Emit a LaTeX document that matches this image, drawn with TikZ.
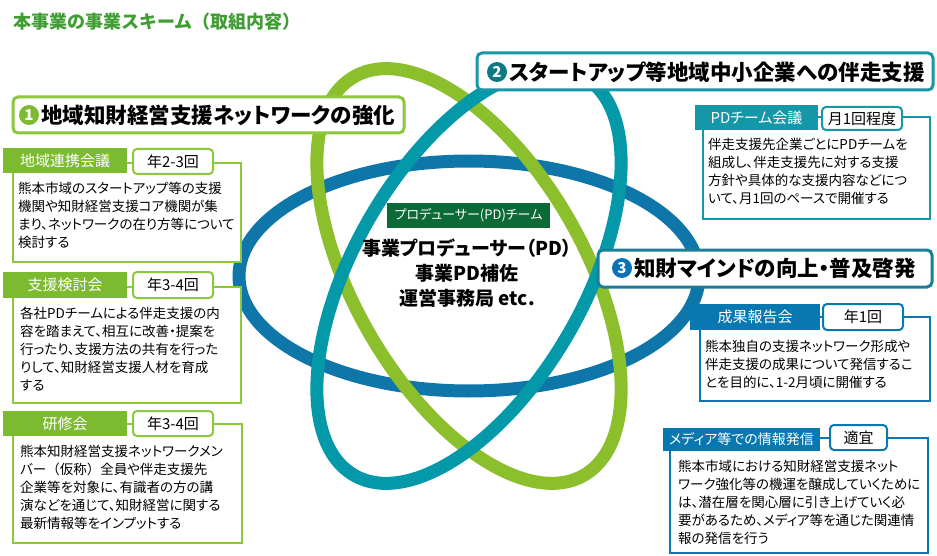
\documentclass[tikz,border=0pt]{standalone}
\usepackage{fontspec}
\setmainfont{Noto Sans CJK JP}[RawFeature={+palt}]
\newfontfamily\nopalt{Noto Sans CJK JP}
\definecolor{cblue}{HTML}{0E76A8}
\definecolor{cteal}{HTML}{0399A9}
\definecolor{cgreen}{HTML}{8BBF2B}
\definecolor{lgb}{HTML}{8DC63F}
\definecolor{lgh}{HTML}{7CBA2F}
\definecolor{tealb}{HTML}{1497A8}
\definecolor{blueb}{HTML}{0A78B0}
\definecolor{hb2}{HTML}{1B96A6}
\definecolor{hb3}{HTML}{1A7E97}
\definecolor{num1}{HTML}{7DBB32}
\definecolor{num2}{HTML}{0D7985}
\definecolor{num3}{HTML}{0B73B4}
\definecolor{dgreen}{HTML}{0B6A35}
\definecolor{ctitle}{HTML}{3F9D33}
\begin{document}
\begin{tikzpicture}[x=1pt,y=-1pt,
  ell/.style={line width=13pt},
  hbox/.style={fill=white, rounded corners=5pt, line width=3pt},
  numc/.style={circle, inner sep=0pt, minimum size=20pt, text=white, font=\fontsize{15}{15}\selectfont\bfseries},
  htext/.style={anchor=west, inner sep=0pt, font=\fontsize{21.5}{24}\selectfont\bfseries},
  bodybox/.style={fill=white, line width=2pt},
  tagbox/.style={fill=white, rounded corners=4pt, line width=2pt},
  hdrtext/.style={text=white, inner sep=0pt, font=\fontsize{15}{17}\selectfont},
  tagtext/.style={inner sep=0pt, font=\fontsize{15}{17}\selectfont},
  bodytext/.style={anchor=north west, align=left, inner sep=0pt, font=\fontsize{13.5}{18}\selectfont},
]
\useasboundingbox (0,0) rectangle (937,556);
\fill[white] (0,0) rectangle (937,556);

% ellipses
\draw[ell, cblue] (469,276) ellipse [x radius=230pt, y radius=115pt];
\draw[ell, cgreen, rotate around={-60:(469,276)}] (469,276) ellipse [x radius=230pt, y radius=115pt];
\draw[ell, cteal, rotate around={60:(469,276)}] (469,276) ellipse [x radius=230pt, y radius=115pt];

% title
\node[anchor=west, inner sep=0pt, text=ctitle, font=\nopalt\fontsize{18}{21}\selectfont\bfseries] (title) at (13,22) {本事業の事業スキーム（取組内容）};

% center
\fill[dgreen] (387,203) rectangle (550,228);
\node[text=white, inner sep=0pt, font=\fontsize{13}{15}\selectfont] (pdteam) at (468.5,215.5) {プロデューサー(PD)チーム};
\node[align=center, inner sep=0pt, font=\fontsize{19}{25}\selectfont\bfseries] (pdmain) at (467,273) {事業プロデューサー（PD）\\事業PD補佐\\運営事務局 etc.};

% heading 1
\draw[hbox, draw=lgb] (13,97) rectangle (404,133);
\node[numc, fill=num1] (n1) at (29,115) {1};
\node[htext] (h1) at (41,115) {地域知財経営支援ネットワークの強化};

% heading 2
\draw[hbox, draw=hb2] (477,53) rectangle (933,90);
\node[numc, fill=num2] (n2) at (497,72) {2};
\node[htext] (h2) at (509,72) {スタートアップ等地域中小企業への伴走支援};

% heading 3
\draw[hbox, draw=hb3] (598,250) rectangle (932,287);
\node[numc, fill=num3] (n3) at (622,268) {3};
\node[htext] (h3) at (634,268) {知財マインドの向上・普及啓発};

% box A
\draw[bodybox, draw=lgb] (13,163) rectangle (241,262);
\fill[lgh] (3,148) rectangle (127,173);
\node[hdrtext] (ha) at (65,160.5) {地域連携会議};
\draw[tagbox, draw=lgb] (133,149) rectangle (213,174);
\node[tagtext] (ta) at (173,161.5) {年2-3回};
\node[bodytext] (ba) at (18,182) {熊本市域のスタートアップ等の支援\\機関や知財経営支援コア機関が集\\まり、ネットワークの在り方等について\\検討する};

% box B
\draw[bodybox, draw=lgb] (13,287) rectangle (241,403);
\fill[lgh] (3,272) rectangle (127,298);
\node[hdrtext] (hb) at (65,285) {支援検討会};
\draw[tagbox, draw=lgb] (133,272) rectangle (213,298);
\node[tagtext] (tb) at (173,285) {年3-4回};
\node[bodytext] (bb) at (20,307) {各社PDチームによる伴走支援の内\\容を踏まえて、相互に改善・提案を\\行ったり、支援方法の共有を行った\\りして、知財経営支援人材を育成\\する};

% box C
\draw[bodybox, draw=lgb] (13,424) rectangle (242,543);
\fill[lgh] (3,411) rectangle (127,436);
\node[hdrtext] (hc) at (65,423.5) {研修会};
\draw[tagbox, draw=lgb] (133,411) rectangle (213,436);
\node[tagtext] (tc) at (173,423.5) {年3-4回};
\node[bodytext] (bc) at (20,445) {熊本知財経営支援ネットワークメン\\バー{\nopalt （}仮称{\nopalt ）}全員や伴走支援先\\企業等を対象に、有識者の方の講\\演などを通じて、知財経営に関する\\最新情報等をインプットする};

% box D
\draw[bodybox, draw=tealb] (703,117) rectangle (930,219);
\fill[tealb] (695,105) rectangle (818,130);
\node[hdrtext] (hd) at (756.5,117.5) {PDチーム会議};
\draw[tagbox, draw=tealb] (822,107) rectangle (902,130);
\node[tagtext] (td) at (862,118.5) {月1回程度};
\node[bodytext] (bd) at (708,138) {伴走支援先企業ごとにPDチームを\\組成し、伴走支援先に対する支援\\方針や具体的な支援内容などにつ\\いて、月1回のペースで開催する};

% box E
\draw[bodybox, draw=blueb] (700,317) rectangle (930,401);
\fill[blueb] (690,304) rectangle (820,330);
\node[hdrtext] (he) at (755,317) {成果報告会};
\draw[tagbox, draw=blueb] (823,304) rectangle (903,330);
\node[tagtext] (te) at (863,317) {年1回};
\node[bodytext] (be) at (705,340) {熊本独自の支援ネットワーク形成や\\伴走支援の成果について発信するこ\\とを目的に、1-2月頃に開催する};

% box F
\draw[bodybox, draw=blueb] (670,438) rectangle (928,553);
\fill[blueb] (663,428) rectangle (820,451);
\node[hdrtext, font=\fontsize{14}{16}\selectfont] (hf) at (741.5,439.5) {メディア等での情報発信};
\draw[tagbox, draw=blueb] (830,425) rectangle (887,450);
\node[tagtext] (tf) at (858.5,437.5) {適宜};
\node[bodytext] (bf) at (678,460) {熊本市域における知財経営支援ネット\\ワーク強化等の機運を醸成していくために\\は、潜在層を関心層に引き上げていく必\\要があるため、メディア等を通じた関連情\\報の発信を行う};
\end{tikzpicture}
\end{document}
